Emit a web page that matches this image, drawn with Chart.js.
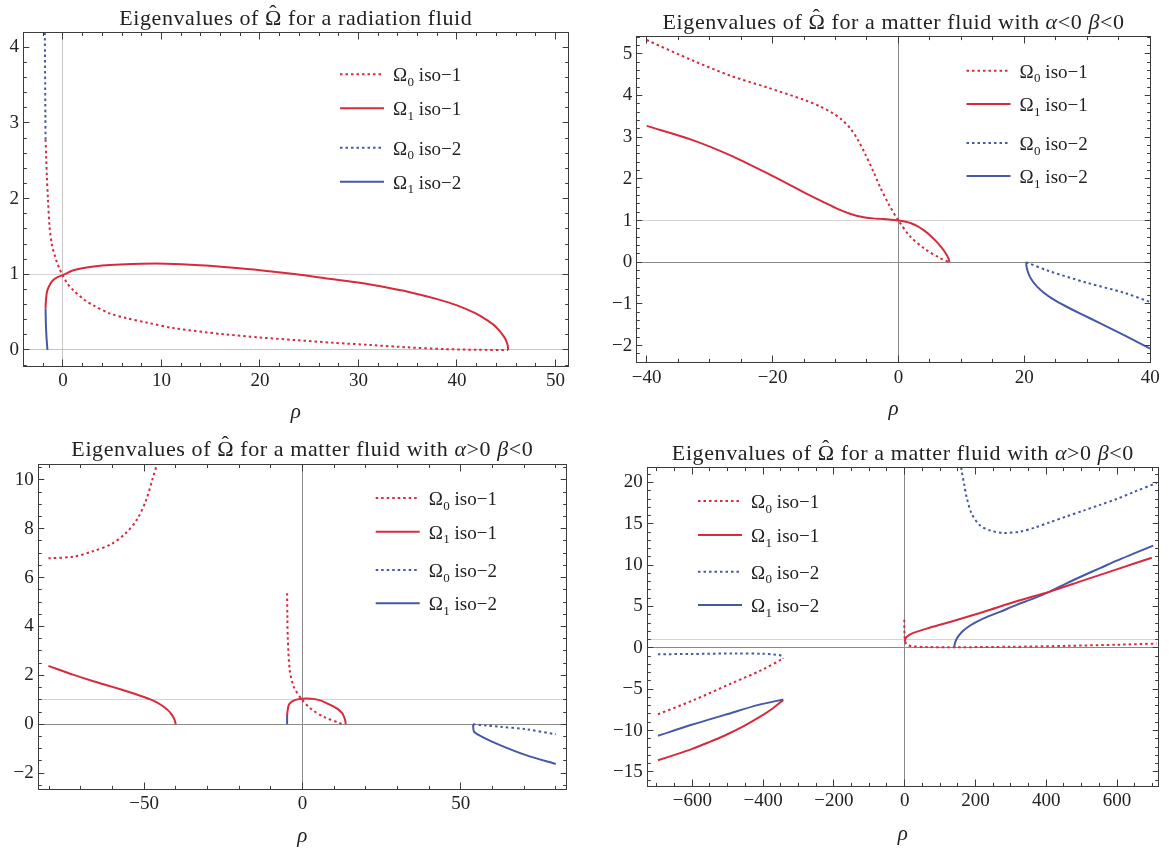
<!DOCTYPE html>
<html><head><meta charset="utf-8">
<script src="https://cdn.jsdelivr.net/npm/chart.js@4.4.1/dist/chart.umd.min.js"></script>
<style>
html,body{margin:0;padding:0;background:#fff;}
#wrap{position:relative;width:1171px;height:851px;overflow:hidden;background:#fff;}
canvas{position:absolute;}
</style></head><body><div id="wrap">
<canvas id="c1" width="580" height="425" style="left:0px;top:0px"></canvas>
<canvas id="c2" width="591" height="425" style="left:580px;top:0px"></canvas>
<canvas id="c3" width="580" height="426" style="left:0px;top:425px"></canvas>
<canvas id="c4" width="591" height="426" style="left:580px;top:425px"></canvas>
</div>
<script>
// ---------- series names ----------
const seriesLabels = ['Ω₀ iso−1', 'Ω₁ iso−1', 'Ω₀ iso−2', 'Ω₁ iso−2'];
const legendSub = ['0', '1', '0', '1'];
const legendTail = [' iso−1', ' iso−1', ' iso−2', ' iso−2'];

// ---------- tick labels ----------
const p1XTicks = [0, 10, 20, 30, 40, 50];
const p1YTicks = [0, 1, 2, 3, 4];
const p2XTicks = [-40, -20, 0, 20, 40];
const p2YTicks = [-2, -1, 0, 1, 2, 3, 4, 5];
const p3XTicks = [-50, 0, 50];
const p3YTicks = [-2, 0, 2, 4, 6, 8, 10];
const p4XTicks = [-600, -400, -200, 0, 200, 400, 600];
const p4YTicks = [-15, -10, -5, 0, 5, 10, 15, 20];

// ---------- panel 1: radiation fluid  ([rho, Omega], null = gap) ----------
const p1Omega0Iso1 = [[-1.76,2.78],[-1.7,2.55],[-1.63,2.3],[-1.52,2.0],[-1.35,1.62],[-1.1,1.38],[-0.83,1.25],[-0.64,1.17],[-0.3,1.06],[0,0.98],[0.5,0.87],[1.05,0.79],[2.2,0.66],[3.1,0.59],[4.8,0.48],[6.5,0.42],[8.6,0.36],[11.2,0.29],[16.2,0.21],[20,0.165],[23.7,0.13],[27.5,0.095],[31.2,0.066],[35,0.035],[38.8,0.012],[42,0.003],[45.2,0]];
const p1Omega1Iso1 = [[-1.76,0.55],[-1.72,0.66],[-1.6,0.78],[-1.3,0.87],[-0.98,0.925],[-0.5,0.965],[0,0.99],[1.0,1.05],[2.4,1.09],[4.0,1.115],[5.8,1.13],[8.0,1.14],[10.5,1.14],[13.9,1.12],[17,1.09],[20,1.055],[23.7,1.0],[27,0.94],[30.1,0.887],[33,0.822],[35,0.77],[38,0.672],[40,0.59],[41.8,0.49],[42.8,0.415],[43.7,0.335],[44.3,0.256],[44.8,0.17],[45.05,0.105],[45.15,0.06],[45.2,0]];
const p1Omega0Iso2 = [[-1.76,2.78],[-1.78,3.1],[-1.8,3.5],[-1.82,3.9],[-1.84,4.35]];
const p1Omega1Iso2 = [[-1.76,0.55],[-1.74,0.4],[-1.7,0.25],[-1.64,0.12],[-1.57,0]];

// ---------- panel 2: matter fluid alpha<0 beta<0 ----------
const p2Omega0Iso1 = [[-40,5.33],[-32.7,4.84],[-26.8,4.48],[-20.8,4.19],[-14.8,3.885],[-12.5,3.74],[-10.5,3.58],[-9,3.42],[-7.7,3.22],[-6.5,2.95],[-5.3,2.6],[-4,2.18],[-2.9,1.8],[-1.5,1.38],[0,1.0],[1.85,0.62],[4.2,0.32],[6.6,0.10],[8.1,0]];
const p2Omega1Iso1 = [[-40,3.27],[-32.7,2.93],[-26.8,2.57],[-20.8,2.13],[-14.8,1.66],[-12,1.45],[-10.1,1.31],[-8.8,1.225],[-7.7,1.162],[-6.5,1.11],[-5.3,1.075],[-4,1.052],[-2.9,1.04],[-1.5,1.025],[0,1.0],[1,0.975],[2,0.935],[3,0.865],[4,0.77],[5,0.65],[6,0.5],[6.8,0.36],[7.4,0.24],[7.8,0.14],[8.0,0.07],[8.1,0]];
const p2Omega0Iso2 = [[20.3,0],[23.9,-0.21],[29.9,-0.49],[35.8,-0.73],[40,-0.955]];
const p2Omega1Iso2 = [[20.3,0],[20.35,-0.1],[20.5,-0.2],[20.8,-0.32],[21.3,-0.45],[22,-0.58],[23,-0.72],[24.5,-0.88],[26.5,-1.05],[29,-1.24],[32,-1.46],[36,-1.76],[40,-2.07]];

// ---------- panel 3: matter fluid alpha>0 beta<0 ----------
const p3Omega0Iso1 = [[-80.2,6.79],[-72.2,6.86],[-66.4,7.07],[-60.5,7.36],[-55.9,7.8],[-52.3,8.36],[-49.4,9.15],[-47.4,10.0],[-45.6,10.8],[-45.2,11.2], null, [-4.83,5.36],[-4.75,4.4],[-4.63,3.58],[-4.0,2.22],[-2.74,1.54],[-0.42,1.06],[2.53,0.65],[6.7,0.31],[12.0,0.04],[12.6,0]];
const p3Omega1Iso1 = [[-80.2,2.39],[-72.2,2.02],[-66,1.76],[-60,1.53],[-55,1.33],[-51,1.16],[-48,1.02],[-46,0.9],[-44,0.74],[-42.5,0.58],[-41.5,0.44],[-40.8,0.3],[-40.3,0.16],[-40,0], null, [-4.83,0.38],[-4.6,0.62],[-4.3,0.79],[-3.6,0.9],[-2.74,0.97],[-1.5,1.02],[0,1.05],[1.5,1.06],[3.5,1.04],[5.8,0.97],[7.9,0.85],[9.8,0.73],[11.6,0.58],[12.7,0.43],[13.3,0.25],[13.6,0.1],[13.65,0]];
const p3Omega0Iso2 = [[53.9,0],[58,-0.05],[62.4,-0.1],[70.6,-0.2],[80,-0.41]];
const p3Omega1Iso2 = [[-4.83,0.38],[-4.83,0], null, [53.9,0],[54.2,-0.3],[56.6,-0.5],[62.4,-0.85],[70.6,-1.26],[80,-1.62]];

// ---------- panel 4: matter fluid alpha>0 beta<0 (wide range) ----------
const p4Omega0Iso1 = [[-697,-8.03],[-595,-6.3],[-489,-4.29],[-404,-2.69],[-343,-1.29], null, [-1,3.4],[-1,2.5],[-0.5,1.6],[0.5,1.0],[3,0.55],[8,0.35],[20,0.2],[60,0.1],[150,0.08],[300,0.13],[457,0.24],[600,0.38],[712,0.52]];
const p4Omega1Iso1 = [[-697,-13.6],[-650,-12.95],[-602,-12.25],[-555,-11.45],[-508,-10.6],[-460,-9.6],[-413,-8.45],[-375,-7.4],[-343,-6.3], null, [0,0.75],[2,1.1],[5.6,1.33],[12,1.55],[24.5,1.81],[62,2.33],[128,3.13],[222,4.34],[316,5.63],[410,6.8],[505,8.16],[599,9.49],[698,10.9]];
const p4Omega0Iso2 = [[-697,-0.77],[-600,-0.74],[-480,-0.68],[-400,-0.72],[-370,-0.8],[-352,-0.9],[-345,-1.05],[-343,-1.29], null, [158,22.5],[161,21.4],[168,19.8],[175,18.2],[189.5,16.2],[213,14.8],[241,14.2],[279,13.9],[326,14.06],[368,14.55],[410,15.19],[457,15.9],[505,16.6],[552,17.3],[599,18.0],[650,18.9],[712,19.95]];
const p4Omega1Iso2 = [[-697,-10.64],[-602,-9.31],[-508,-8.11],[-413,-6.9],[-343,-6.25], null, [140,0],[141,0.4],[143,0.7],[147,1.1],[155,1.6],[166,2.1],[185,2.7],[203,3.15],[236,3.8],[269,4.35],[316,5.2],[363,5.95],[410,6.8],[457,7.8],[505,8.75],[552,9.65],[599,10.55],[650,11.45],[702,12.37]];

// ---------- styling / layout ----------
const FAMILY = '"Liberation Serif", "DejaVu Serif", serif';
const TEXT = '#222222';
const RED = '#d62b3d';
const BLUE = '#4658a6';
const seriesStyle = [
  {color: RED, dash: [2.5, 3]},
  {color: RED, dash: []},
  {color: BLUE, dash: [2.5, 3]},
  {color: BLUE, dash: []}
];
const N = 'n', I = 'i', H = 'hat';
const titleMatter = (a) => [['Eigenvalues of ', N], ['Ω', H], [' for a matter fluid with ', N], ['α', I], [a + '0 ', N], ['β', I], ['<0', N]];

const panels = [
  {id: 'c1', left: 0, top: 0, w: 580, h: 425, frame: {l: 23.5, t: 32.3, r: 568, b: 366.5},
   xRange: [-4.0, 51.27], yRange: [-0.218, 4.197], xTicks: p1XTicks, yTicks: p1YTicks, xMinor: 2, yMinor: 0.2,
   series: [p1Omega0Iso1, p1Omega1Iso1, p1Omega0Iso2, p1Omega1Iso2],
   title: [['Eigenvalues of ', N], ['Ω', H], [' for a radiation fluid', N]],
   legendX: 316.5, legendRows: [42, 76, 115.4, 149.4], axisColor: '#c6c6c6', rhoPad: 0},
  {id: 'c2', left: 580, top: 0, w: 591, h: 425, frame: {l: 636.7, t: 36.7, r: 1150.5, b: 362.7},
   xRange: [-41.59, 40.05], yRange: [-2.41, 5.41], xTicks: p2XTicks, yTicks: p2YTicks, xMinor: 5, yMinor: 0.2,
   series: [p2Omega0Iso1, p2Omega1Iso1, p2Omega0Iso2, p2Omega1Iso2],
   title: titleMatter('<'),
   legendX: 329.8, legendRows: [34, 67.3, 106.3, 139.3], axisColor: '#8a8a8a', rhoPad: 3},
  {id: 'c3', left: 0, top: 425, w: 580, h: 426, frame: {l: 38.3, t: 464, r: 566.5, b: 789.3},
   xRange: [-83.4, 83.4], yRange: [-2.658, 10.646], xTicks: p3XTicks, yTicks: p3YTicks, xMinor: 10, yMinor: 0.5,
   series: [p3Omega0Iso1, p3Omega1Iso1, p3Omega0Iso2, p3Omega1Iso2],
   title: titleMatter('>'),
   legendX: 337.4, legendRows: [34, 67.7, 106, 139.3], axisColor: '#8a8a8a', rhoPad: 2.3},
  {id: 'c4', left: 580, top: 425, w: 591, h: 426, frame: {l: 647.3, t: 467.7, r: 1158.5, b: 786.5},
   xRange: [-727.1, 717], yRange: [-16.77, 21.79], xTicks: p4XTicks, yTicks: p4YTicks, xMinor: 50, yMinor: 1,
   series: [p4Omega0Iso1, p4Omega1Iso1, p4Omega0Iso2, p4Omega1Iso2],
   title: titleMatter('>'),
   legendX: 50.7, legendRows: [33.3, 67.3, 104, 137.3], axisColor: '#8a8a8a', rhoPad: 4}
];
const panelById = {};
panels.forEach(p => panelById[p.id] = p);

const fmt = v => (v < 0 ? '\u2212' + Math.abs(v) : String(v));
const toPoints = arr => arr.map(pt => pt ? {x: pt[0], y: pt[1]} : {x: null, y: null});

// reference lines (rho=0, Omega=0, Omega=1) drawn through the scales
const refLinesPlugin = {
  id: 'refLines',
  beforeDatasetsDraw(chart) {
    const p = panelById[chart.canvas.id];
    const {ctx, chartArea: a, scales: {x, y}} = chart;
    ctx.save();
    ctx.lineWidth = 1;
    const hline = (v, c) => {
      const py = Math.floor(y.getPixelForValue(v)) + 0.5;
      ctx.strokeStyle = c; ctx.beginPath(); ctx.moveTo(a.left, py); ctx.lineTo(a.right, py); ctx.stroke();
    };
    const vline = (v, c) => {
      const px = Math.floor(x.getPixelForValue(v)) + 0.5;
      ctx.strokeStyle = c; ctx.beginPath(); ctx.moveTo(px, a.top); ctx.lineTo(px, a.bottom); ctx.stroke();
    };
    hline(1, '#d3d3d3');
    hline(0, p.axisColor);
    vline(0, p.axisColor);
    ctx.restore();
  }
};

// Mathematica-style frame with inward ticks on all four sides
const framePlugin = {
  id: 'frameTicks',
  afterDatasetsDraw(chart) {
    const p = panelById[chart.canvas.id];
    const {ctx, chartArea: a, scales: {x, y}} = chart;
    const L = Math.floor(a.left) + 0.5, R = Math.floor(a.right) + 0.5;
    const T = Math.floor(a.top) + 0.5, B = Math.floor(a.bottom) + 0.5;
    ctx.save();
    ctx.strokeStyle = '#3c3c3c';
    ctx.lineWidth = 1;
    ctx.strokeRect(L, T, R - L, B - T);
    const seg = (x1, y1, x2, y2) => { ctx.beginPath(); ctx.moveTo(x1, y1); ctx.lineTo(x2, y2); ctx.stroke(); };
    const xt = (v, len) => {
      const px = Math.floor(x.getPixelForValue(v)) + 0.5;
      if (px < L - 0.1 || px > R + 0.1) return;
      seg(px, B, px, B - len); seg(px, T, px, T + len);
    };
    const yt = (v, len) => {
      const py = Math.floor(y.getPixelForValue(v)) + 0.5;
      if (py < T - 0.1 || py > B + 0.1) return;
      seg(L, py, L + len, py); seg(R, py, R - len, py);
    };
    const isMajor = (v, list) => list.some(m => Math.abs(m - v) < 1e-9);
    const xs = p.xMinor, ys = p.yMinor;
    for (let k = Math.ceil(x.min / xs); k * xs <= x.max; k++) {
      const v = +(k * xs).toFixed(6);
      xt(v, isMajor(v, p.xTicks) ? 7 : 3.6);
    }
    for (let k = Math.ceil(y.min / ys); k * ys <= y.max; k++) {
      const v = +(k * ys).toFixed(6);
      yt(v, isMajor(v, p.yTicks) ? 5.8 : 3.3);
    }
    ctx.restore();
  }
};

// panel title centred over the frame
const TITLE_SIZE = 22;
const titlePlugin = {
  id: 'panelTitle',
  afterDraw(chart) {
    const p = panelById[chart.canvas.id];
    const {ctx, chartArea: a} = chart;
    ctx.save();
    ctx.fillStyle = TEXT;
    ctx.textBaseline = 'alphabetic';
    ctx.textAlign = 'left';
    try { ctx.letterSpacing = '0.6px'; } catch (e) {}
    const fontOf = s => (s === I ? 'italic ' : '') + TITLE_SIZE + 'px ' + FAMILY;
    let total = 0;
    p.title.forEach(([t, s]) => { ctx.font = fontOf(s); total += ctx.measureText(t).width; });
    let tx = (a.left + a.right) / 2 - total / 2;
    const base = a.top - 15 + 7.3;
    p.title.forEach(([t, s]) => {
      ctx.font = fontOf(s);
      const w = ctx.measureText(t).width;
      ctx.fillText(t, tx, base);
      if (s === H) {
        ctx.textAlign = 'center';
        ctx.fillText('\u02C6', tx + w / 2 - 0.3, base - 5);
        ctx.textAlign = 'left';
      }
      tx += w;
    });
    ctx.restore();
  }
};

// in-frame legend built from the datasets
const legendPlugin = {
  id: 'curveLegend',
  afterDraw(chart) {
    const p = panelById[chart.canvas.id];
    const {ctx, chartArea: a} = chart;
    chart.data.datasets.forEach((ds, i) => {
      const ly = a.top + p.legendRows[i];
      const lx = a.left + p.legendX;
      ctx.save();
      ctx.strokeStyle = ds.borderColor;
      ctx.lineWidth = 2;
      ctx.setLineDash(ds.borderDash);
      ctx.beginPath(); ctx.moveTo(lx, ly); ctx.lineTo(lx + 44, ly); ctx.stroke();
      ctx.setLineDash([]);
      ctx.fillStyle = TEXT;
      ctx.textBaseline = 'alphabetic';
      ctx.textAlign = 'left';
      let tx = lx + 53;
      ctx.font = '19px ' + FAMILY;
      ctx.fillText('Ω', tx, ly + 7);
      tx += ctx.measureText('Ω').width + 0.5;
      ctx.font = '13px ' + FAMILY;
      ctx.fillText(legendSub[i], tx, ly + 11.5);
      tx += ctx.measureText(legendSub[i]).width;
      ctx.font = '19px ' + FAMILY;
      ctx.fillText(legendTail[i], tx, ly + 7);
      ctx.restore();
    });
  }
};

function makeChart(p) {
  const datasets = p.series.map((s, i) => ({
    label: seriesLabels[i],
    data: toPoints(s),
    showLine: true,
    borderColor: seriesStyle[i].color,
    backgroundColor: seriesStyle[i].color,
    borderWidth: 2,
    borderDash: seriesStyle[i].dash,
    pointRadius: 0,
    pointHoverRadius: 0,
    tension: 0.3,
    fill: false,
    spanGaps: false
  }));
  const tickFont = {family: FAMILY, size: 19};
  new Chart(document.getElementById(p.id), {
    type: 'scatter',
    data: {datasets},
    options: {
      responsive: false,
      animation: false,
      events: [],
      layout: {padding: {top: p.frame.t - p.top, left: 0, right: p.left + p.w - p.frame.r, bottom: 0}},
      plugins: {legend: {display: false}, title: {display: false}, tooltip: {enabled: false}},
      scales: {
        x: {
          type: 'linear', position: 'bottom', min: p.xRange[0], max: p.xRange[1],
          afterBuildTicks: s => { s.ticks = p.xTicks.map(v => ({value: v})); },
          afterFit: s => { s.height = p.top + p.h - p.frame.b; },
          grid: {display: false, drawTicks: false, tickLength: 0},
          border: {display: false},
          ticks: {autoSkip: false, maxRotation: 0, padding: 3.5, color: TEXT, font: tickFont, callback: v => fmt(v)},
          title: {display: true, text: 'ρ', color: TEXT, font: {family: FAMILY, size: 21, style: 'italic'}, padding: {top: 0, bottom: p.rhoPad}}
        },
        y: {
          type: 'linear', position: 'left', min: p.yRange[0], max: p.yRange[1],
          afterBuildTicks: s => { s.ticks = p.yTicks.map(v => ({value: v})); },
          afterFit: s => { s.width = p.frame.l - p.left; },
          grid: {display: false, drawTicks: false, tickLength: 0},
          border: {display: false},
          ticks: {autoSkip: false, padding: 4.5, color: TEXT, font: tickFont, callback: v => fmt(v)}
        }
      }
    },
    plugins: [refLinesPlugin, framePlugin, titlePlugin, legendPlugin]
  });
}
panels.forEach(makeChart);
</script>
</body></html>
